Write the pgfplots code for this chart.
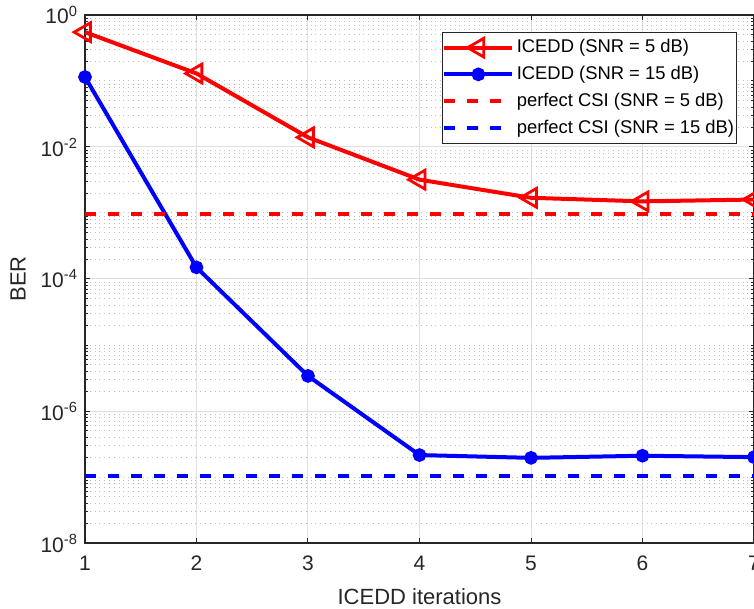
\documentclass[border=0pt]{standalone}
\usepackage{fontspec}
\setmainfont{Liberation Sans}
\usepackage{pgfplots}
\pgfplotsset{compat=1.18}

\definecolor{axgray}{gray}{0.15}

\begin{document}
\begin{tikzpicture}
\begin{axis}[
  scale only axis,
  width=334.5pt, height=264pt,
  ymode=log,
  xmin=1, xmax=7, ymin=1e-8, ymax=1,
  xtick={1,2,3,4,5,6,7},
  ytick={1e-8,1e-6,1e-4,1e-2,1},
  yticklabels={10\textsuperscript{-8},10\textsuperscript{-6},10\textsuperscript{-4},10\textsuperscript{-2},10\textsuperscript{0}},
  minor ytick={1e-7,1e-5,1e-3,1e-1,
    2e-8,3e-8,4e-8,5e-8,6e-8,7e-8,8e-8,9e-8,
    2e-7,3e-7,4e-7,5e-7,6e-7,7e-7,8e-7,9e-7,
    2e-6,3e-6,4e-6,5e-6,6e-6,7e-6,8e-6,9e-6,
    2e-5,3e-5,4e-5,5e-5,6e-5,7e-5,8e-5,9e-5,
    2e-4,3e-4,4e-4,5e-4,6e-4,7e-4,8e-4,9e-4,
    2e-3,3e-3,4e-3,5e-3,6e-3,7e-3,8e-3,9e-3,
    2e-2,3e-2,4e-2,5e-2,6e-2,7e-2,8e-2,9e-2,
    2e-1,3e-1,4e-1,5e-1,6e-1,7e-1,8e-1,9e-1},
  grid=both,
  major grid style={solid, gray!25, line width=0.5pt},
  minor grid style={dotted, gray!50, line width=0.5pt},
  tick align=inside,
  major tick length=2.5pt, minor tick length=1.5pt,
  every tick/.style={axgray, line width=0.5pt},
  axis line style={axgray, line width=0.6pt},
  /pgf/number format/assume math mode=true,
  tick label style={font=\fontsize{10.5}{12}\selectfont, text=axgray},
  xticklabel style={yshift=-3pt},
  xlabel={ICEDD iterations},
  ylabel={BER},
  label style={font=\fontsize{11}{13}\selectfont, text=axgray},
  xlabel style={at={([yshift=-27pt]axis description cs:0.5,0)}, anchor=center},
  ylabel style={at={([xshift=-33.5pt]axis description cs:0,0.5)}, anchor=center},
  clip=false,
  legend style={at={([xshift=-8.5pt,yshift=-8.5pt]rel axis cs:1,1)}, anchor=north east,
    font=\fontsize{9.2}{11}\selectfont, draw=axgray, line width=0.5pt, fill=white,
    inner xsep=0pt, inner ysep=1.5pt, row sep=1.2pt,
    nodes={inner xsep=1.2pt}},
  legend cell align=left,
  legend image code/.code={
    \draw[mark repeat=2, mark phase=2, #1] plot coordinates {(0pt,0pt) (17pt,0pt) (34pt,0pt)};},
]
\addplot[red, line width=2pt, mark=triangle, mark size=5.4pt,
  mark options={solid, rotate=90, fill=none, line width=1.4pt}] coordinates {
  (1, 0.55) (2, 0.13) (3, 0.014) (4, 0.0032) (5, 0.0017) (6, 0.0015) (7, 0.0016)
};
\addlegendentry{ICEDD (SNR = 5 dB)}
\addplot[blue, line width=2pt, mark=*, mark size=2.4pt] coordinates {
  (1, 0.115) (2, 1.5e-4) (3, 3.4e-6) (4, 2.15e-7) (5, 1.95e-7) (6, 2.1e-7) (7, 2.0e-7)
};
\addlegendentry{ICEDD (SNR = 15 dB)}
\addplot[red, line width=2pt, dash pattern=on 5.5pt off 6pt] coordinates {
  (1, 9.6e-4) (7, 9.6e-4)
};
\addlegendentry{perfect CSI (SNR = 5 dB)}
\addplot[blue, line width=2pt, dash pattern=on 5.5pt off 6pt] coordinates {
  (1, 1.04e-7) (7, 1.04e-7)
};
\addlegendentry{perfect CSI (SNR = 15 dB)}
\end{axis}
\pgfresetboundingbox
\useasboundingbox ([shift={(-42.5pt,-33pt)}]current axis.south west) rectangle ([shift={(0pt,7.5pt)}]current axis.north east);
\end{tikzpicture}
\end{document}
